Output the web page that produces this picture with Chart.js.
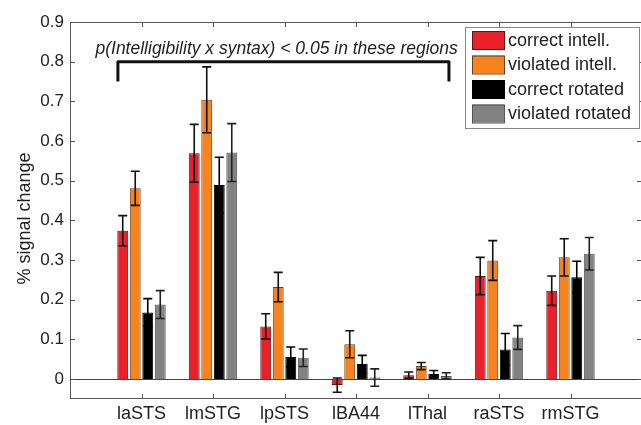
<!DOCTYPE html>
<html>
<head>
<meta charset="utf-8">
<script src="https://cdn.jsdelivr.net/npm/chart.js@4"></script>
<style>
  html, body { margin: 0; padding: 0; overflow: hidden; background: #fff; }
  canvas { display: block; }
</style>
</head>
<body>
<canvas id="myChart" width="646" height="425"></canvas>
<script>
// regions on the x axis (blank slots at both ends, like the matlab figure)
const regions = ['', 'laSTS', 'lmSTG', 'lpSTS', 'lBA44', 'lThal', 'raSTS', 'rmSTG', '']

const correctIntell = [null, 0.374, 0.569, 0.133, -0.015, 0.010, 0.260, 0.223, null]
const correctIntellErr = [null, 0.038, 0.073, 0.032, 0.018, 0.008, 0.047, 0.037, null]
const violatedIntell = [null, 0.481, 0.704, 0.232, 0.088, 0.033, 0.299, 0.307, null]
const violatedIntellErr = [null, 0.043, 0.083, 0.037, 0.034, 0.009, 0.050, 0.047, null]
const correctRot = [null, 0.168, 0.489, 0.056, 0.038, 0.013, 0.075, 0.257, null]
const correctRotErr = [null, 0.035, 0.070, 0.025, 0.022, 0.009, 0.040, 0.040, null]
const violatedRot = [null, 0.188, 0.571, 0.054, 0.004, 0.008, 0.105, 0.316, null]
const violatedRotErr = [null, 0.035, 0.073, 0.022, 0.022, 0.008, 0.030, 0.041, null]

const yTicks = [0, 0.1, 0.2, 0.3, 0.4, 0.5, 0.6, 0.7, 0.8, 0.9]
const yTickLabels = ['0', '0.1', '0.2', '0.3', '0.4', '0.5', '0.6', '0.7', '0.8', '0.9']

const noteText = 'p(Intelligibility x syntax) < 0.05 in these regions'
const bracketX = [0.67, 5.3]
const bracketY = [0.80, 0.75]
const noteX = 2.89
const noteY = 0.832

const errors = [correctIntellErr, violatedIntellErr, correctRotErr, violatedRotErr]
const errColors = ['#111', '#111', '#000', '#222']

const font = '"Liberation Sans", Arial, Helvetica, sans-serif'

const data = {
    labels: regions,
    datasets: [
        { label: 'correct intell.', data: correctIntell, backgroundColor: '#e8212b', borderColor: '#5a1414' },
        { label: 'violated intell.', data: violatedIntell, backgroundColor: '#f5831f', borderColor: '#6b4020' },
        { label: 'correct rotated', data: correctRot, backgroundColor: '#000000', borderColor: '#000000' },
        { label: 'violated rotated', data: violatedRot, backgroundColor: '#828282', borderColor: '#555555' }
    ]
}

const figurePlugin = {
    id: 'figure',
    beforeDatasetsDraw(chart) {
        const ctx = chart.ctx
        const y = chart.scales.y
        const a = chart.chartArea
        // zero line
        ctx.save()
        ctx.strokeStyle = '#444'
        ctx.lineWidth = 1
        ctx.beginPath()
        ctx.moveTo(a.left, Math.round(y.getPixelForValue(0)) + 0.5)
        ctx.lineTo(a.right, Math.round(y.getPixelForValue(0)) + 0.5)
        ctx.stroke()
        ctx.restore()
    },
    afterDatasetsDraw(chart) {
        const ctx = chart.ctx
        const x = chart.scales.x
        const y = chart.scales.y
        const a = chart.chartArea

        // error bars
        chart.data.datasets.forEach((ds, i) => {
            const meta = chart.getDatasetMeta(i)
            meta.data.forEach((bar, j) => {
                const v = ds.data[j]
                const e = errors[i][j]
                if (v == null || e == null) return
                const top = y.getPixelForValue(v + e)
                const bot = y.getPixelForValue(v - e)
                ctx.save()
                ctx.strokeStyle = errColors[i]
                ctx.lineWidth = 1.6
                ctx.beginPath()
                ctx.moveTo(bar.x, top)
                ctx.lineTo(bar.x, bot)
                ctx.moveTo(bar.x - 4.5, top)
                ctx.lineTo(bar.x + 4.5, top)
                ctx.moveTo(bar.x - 4.5, bot)
                ctx.lineTo(bar.x + 4.5, bot)
                ctx.stroke()
                ctx.restore()
            })
        })

        // axes box with inward ticks
        ctx.save()
        ctx.strokeStyle = '#555'
        ctx.lineWidth = 1
        ctx.strokeRect(a.left + 0.5, a.top + 0.5, a.right - a.left - 1, a.bottom - a.top - 1)
        ctx.beginPath()
        y.ticks.forEach(t => {
            const py = Math.round(y.getPixelForValue(t.value)) + 0.5
            ctx.moveTo(a.left, py)
            ctx.lineTo(a.left + 5, py)
            ctx.moveTo(a.right, py)
            ctx.lineTo(a.right - 5, py)
        })
        for (let i = 1; i < regions.length - 1; i++) {
            const px = Math.round(x.getPixelForValue(i)) + 0.5
            ctx.moveTo(px, a.bottom)
            ctx.lineTo(px, a.bottom - 5)
            ctx.moveTo(px, a.top)
            ctx.lineTo(px, a.top + 5)
        }
        ctx.stroke()
        ctx.restore()

        // bracket and note
        const bx0 = x.getPixelForValue(bracketX[0])
        const bx1 = x.getPixelForValue(bracketX[1])
        const by0 = y.getPixelForValue(bracketY[0])
        const by1 = y.getPixelForValue(bracketY[1])
        ctx.save()
        ctx.strokeStyle = '#111'
        ctx.lineWidth = 3
        ctx.lineJoin = 'round'
        ctx.beginPath()
        ctx.moveTo(bx0, by1)
        ctx.lineTo(bx0, by0)
        ctx.lineTo(bx1, by0)
        ctx.lineTo(bx1, by1)
        ctx.stroke()
        ctx.fillStyle = '#222'
        ctx.font = 'italic 17.5px ' + font
        ctx.textAlign = 'center'
        ctx.textBaseline = 'middle'
        ctx.fillText(noteText, x.getPixelForValue(noteX), y.getPixelForValue(noteY))
        ctx.restore()

        // legend
        ctx.save()
        ctx.fillStyle = '#fff'
        ctx.fillRect(465, 27, 174, 101)
        ctx.strokeStyle = '#888'
        ctx.lineWidth = 1
        ctx.strokeRect(465.5, 27.5, 174, 101)
        ctx.font = '18px ' + font
        ctx.textBaseline = 'middle'
        ctx.textAlign = 'left'
        chart.data.datasets.forEach((ds, i) => {
            const cy = 40 + i * 24.5
            ctx.fillStyle = ds.backgroundColor
            ctx.fillRect(472, cy - 9, 32, 18)
            ctx.strokeStyle = ds.borderColor
            ctx.strokeRect(472.5, cy - 8.5, 32, 18)
            ctx.fillStyle = '#222'
            ctx.fillText(ds.label, 508, cy + 1)
        })
        ctx.restore()

        // y axis title
        ctx.save()
        ctx.translate(25, (a.top + a.bottom) / 2 + 8)
        ctx.rotate(-Math.PI / 2)
        ctx.font = '18px ' + font
        ctx.fillStyle = '#222'
        ctx.textAlign = 'center'
        ctx.textBaseline = 'middle'
        ctx.fillText('% signal change', 0, 0)
        ctx.restore()
    }
}

const config = {
    type: 'bar',
    data: data,
    options: {
        responsive: false,
        animation: false,
        layout: { padding: { top: 22, right: 1, left: 0, bottom: 0 } },
        datasets: {
            bar: { categoryPercentage: 0.7, barPercentage: 0.87, borderWidth: 1 }
        },
        plugins: {
            legend: { display: false },
            tooltip: { enabled: false }
        },
        scales: {
            x: {
                type: 'category',
                offset: false,
                grid: { display: false, drawTicks: false },
                border: { display: false },
                ticks: { autoSkip: false, maxRotation: 0, padding: 4, color: '#222', font: { family: font, size: 18 } },
                afterFit: scale => { scale.height = 26 }
            },
            y: {
                min: -0.05,
                max: 0.9,
                grid: { display: false, drawTicks: false },
                border: { display: false },
                afterBuildTicks: scale => { scale.ticks = yTicks.map(v => ({ value: v })) },
                ticks: {
                    padding: 6,
                    color: '#222',
                    font: { family: font, size: 17 },
                    callback: v => yTickLabels[yTicks.indexOf(v)]
                },
                afterFit: scale => { scale.width = 70 }
            }
        }
    },
    plugins: [figurePlugin]
}

const myChart = new Chart(document.getElementById('myChart'), config)
</script>
</body>
</html>
